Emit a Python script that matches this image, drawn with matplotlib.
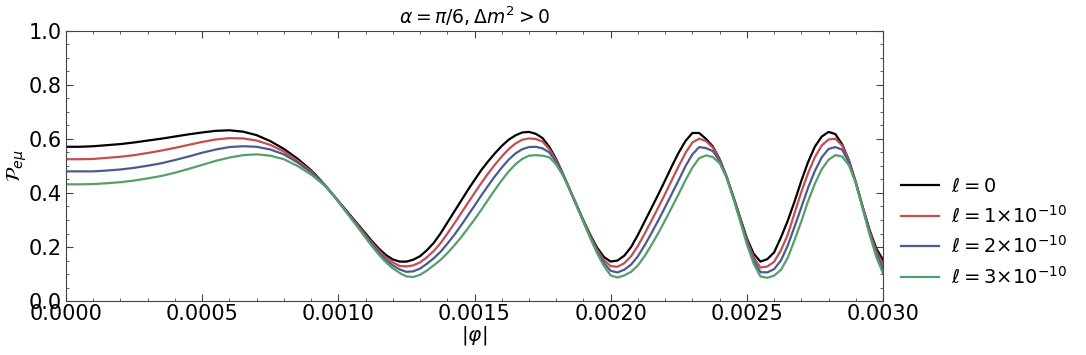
import numpy as np
import matplotlib
matplotlib.use('Agg')
import matplotlib.pyplot as plt
from matplotlib.ticker import MultipleLocator

# --- data (phi in units of 1e-3) ---
phi_milli = [0.00, 0.05, 0.10, 0.15, 0.20, 0.25, 0.30, 0.35, 0.40, 0.45,
             0.50, 0.55, 0.60, 0.65, 0.70, 0.75, 0.80, 0.85,
             0.900, 0.925, 0.950, 0.975, 1.000, 1.025, 1.050, 1.075, 1.100, 1.125,
             1.150, 1.175, 1.200, 1.225, 1.250, 1.275, 1.300, 1.325, 1.350, 1.375,
             1.400, 1.425, 1.450, 1.475, 1.500, 1.525, 1.550, 1.575, 1.600, 1.625,
             1.650, 1.675, 1.700, 1.725, 1.750, 1.775, 1.800, 1.825, 1.850, 1.875,
             1.900, 1.925, 1.950, 1.975, 2.000, 2.025, 2.050, 2.075, 2.100, 2.125,
             2.150, 2.175, 2.200, 2.225, 2.250, 2.275, 2.300, 2.325, 2.350, 2.375,
             2.400, 2.425, 2.450, 2.475, 2.500, 2.525, 2.550, 2.575, 2.600, 2.625,
             2.650, 2.675, 2.700, 2.725, 2.750, 2.775, 2.800, 2.825, 2.850, 2.875,
             2.900, 2.925, 2.950, 2.975, 3.000]

p_l0 = [0.571, 0.571, 0.573, 0.577, 0.581, 0.587, 0.594, 0.601, 0.609, 0.617,
        0.624, 0.630, 0.632, 0.627, 0.614, 0.592, 0.563, 0.527,
        0.484, 0.458, 0.430, 0.400, 0.370, 0.340, 0.310, 0.280, 0.250, 0.220,
        0.193, 0.170, 0.154, 0.146, 0.146, 0.153, 0.166, 0.188,
        0.215, 0.250, 0.290, 0.330, 0.370, 0.410, 0.448, 0.485, 0.517, 0.547,
        0.574, 0.597, 0.613, 0.624, 0.626, 0.619, 0.603,
        0.570, 0.525, 0.470, 0.412, 0.355, 0.298, 0.245, 0.198, 0.163, 0.146, 0.150,
        0.168, 0.200, 0.245, 0.295, 0.345, 0.395, 0.447, 0.500, 0.550, 0.593, 0.622, 0.622,
        0.600, 0.572, 0.525, 0.462, 0.388, 0.310, 0.232, 0.175, 0.146, 0.155,
        0.180, 0.235, 0.297, 0.368, 0.445, 0.515, 0.572, 0.609, 0.626, 0.618,
        0.580, 0.520, 0.440, 0.350, 0.265, 0.195, 0.152]

p_l1 = [0.525, 0.525, 0.526, 0.530, 0.534, 0.540, 0.548, 0.557, 0.567, 0.578,
        0.589, 0.598, 0.603, 0.602, 0.594, 0.578, 0.553, 0.520,
        0.480, 0.456, 0.430, 0.400, 0.369, 0.338, 0.307, 0.276, 0.245, 0.214,
        0.186, 0.161, 0.143, 0.130, 0.128, 0.132, 0.143, 0.162,
        0.185, 0.214, 0.249, 0.286, 0.324, 0.362, 0.400, 0.437, 0.472, 0.505,
        0.535, 0.562, 0.583, 0.597, 0.602, 0.600, 0.590,
        0.562, 0.521, 0.469, 0.412, 0.354, 0.296, 0.241, 0.191, 0.152, 0.129, 0.127,
        0.140, 0.166, 0.204, 0.250, 0.298, 0.347, 0.397, 0.449, 0.500, 0.549, 0.587, 0.601,
        0.592, 0.568, 0.522, 0.461, 0.386, 0.306, 0.225, 0.162, 0.124, 0.128,
        0.145, 0.188, 0.245, 0.325, 0.404, 0.474, 0.533, 0.576, 0.598, 0.601,
        0.575, 0.518, 0.439, 0.348, 0.260, 0.185, 0.135]

p_l2 = [0.480, 0.480, 0.480, 0.483, 0.487, 0.493, 0.501, 0.510, 0.522, 0.535,
        0.549, 0.561, 0.570, 0.573, 0.571, 0.561, 0.543, 0.513,
        0.476, 0.453, 0.429, 0.400, 0.368, 0.336, 0.304, 0.272, 0.240, 0.208,
        0.178, 0.152, 0.132, 0.117, 0.108, 0.110, 0.120, 0.138,
        0.158, 0.182, 0.212, 0.244, 0.279, 0.316, 0.353, 0.391, 0.427, 0.462,
        0.494, 0.523, 0.546, 0.562, 0.570, 0.571, 0.565,
        0.550, 0.515, 0.467, 0.412, 0.353, 0.294, 0.237, 0.184, 0.141, 0.112, 0.106,
        0.116, 0.135, 0.166, 0.207, 0.252, 0.299, 0.348, 0.398, 0.448, 0.500, 0.543, 0.570,
        0.566, 0.555, 0.518, 0.460, 0.384, 0.302, 0.218, 0.150, 0.107, 0.106,
        0.118, 0.150, 0.205, 0.275, 0.347, 0.420, 0.482, 0.532, 0.563, 0.570,
        0.560, 0.512, 0.438, 0.346, 0.255, 0.175, 0.118]

p_l3 = [0.432, 0.432, 0.433, 0.436, 0.440, 0.446, 0.454, 0.463, 0.475, 0.489,
        0.504, 0.519, 0.531, 0.540, 0.543, 0.538, 0.525, 0.500,
        0.468, 0.448, 0.427, 0.400, 0.367, 0.334, 0.301, 0.268, 0.234, 0.201,
        0.170, 0.143, 0.121, 0.104, 0.091, 0.089, 0.097, 0.113,
        0.132, 0.152, 0.177, 0.205, 0.235, 0.268, 0.302, 0.338, 0.375, 0.412,
        0.447, 0.479, 0.506, 0.526, 0.538, 0.540, 0.538,
        0.532, 0.505, 0.464, 0.411, 0.352, 0.292, 0.233, 0.177, 0.130, 0.095, 0.087,
        0.095, 0.108, 0.132, 0.167, 0.208, 0.252, 0.299, 0.348, 0.397, 0.448, 0.494, 0.529,
        0.539, 0.533, 0.510, 0.458, 0.381, 0.297, 0.210, 0.138, 0.091, 0.086,
        0.094, 0.115, 0.160, 0.225, 0.295, 0.370, 0.435, 0.488, 0.523, 0.540,
        0.535, 0.502, 0.436, 0.343, 0.249, 0.164, 0.102]

labels = [r'$\ell=0$', r'$\ell=1{\times}10^{-10}$',
          r'$\ell=2{\times}10^{-10}$', r'$\ell=3{\times}10^{-10}$']
colors = ['black', '#c44e52', '#4c5a92', '#55a06a']

phi = np.array(phi_milli) * 1e-3

fig = plt.figure(figsize=(10.86, 3.55), dpi=100)
ax = fig.add_axes([0.0608, 0.152, 0.7523, 0.761])

for p, lab, c in zip([p_l0, p_l1, p_l2, p_l3], labels, colors):
    ax.plot(phi, p, color=c, lw=1.6, label=lab)

ax.set_xlim(0, 0.003)
ax.set_ylim(0, 1.0)
ax.xaxis.set_major_locator(MultipleLocator(0.0005))
ax.xaxis.set_minor_locator(MultipleLocator(0.0001))
ax.yaxis.set_major_locator(MultipleLocator(0.2))
ax.yaxis.set_minor_locator(MultipleLocator(0.05))
ax.tick_params(which='both', direction='in', top=True, right=True,
               labelsize=15, color='#444444')
ax.tick_params(which='major', length=5)
ax.tick_params(which='minor', length=2.5)
ax.tick_params(axis='x', pad=2)
ax.tick_params(axis='y', pad=3)
for s in ax.spines.values():
    s.set_color('#444444')

ax.set_title(r'$\alpha=\pi/6, \Delta m^2>0$', fontsize=13.5, pad=5)
ax.set_xlabel(r'$|\varphi|$', fontsize=14.5, labelpad=0)
ax.set_ylabel(r'$\mathcal{P}_{e\mu}$', fontsize=14.5, labelpad=0)

ax.legend(loc='center left', bbox_to_anchor=(1.0, 0.254), frameon=False,
          fontsize=14, handlelength=2.0, labelspacing=0.45, handletextpad=0.6)

fig.savefig('out.png', dpi=100)
